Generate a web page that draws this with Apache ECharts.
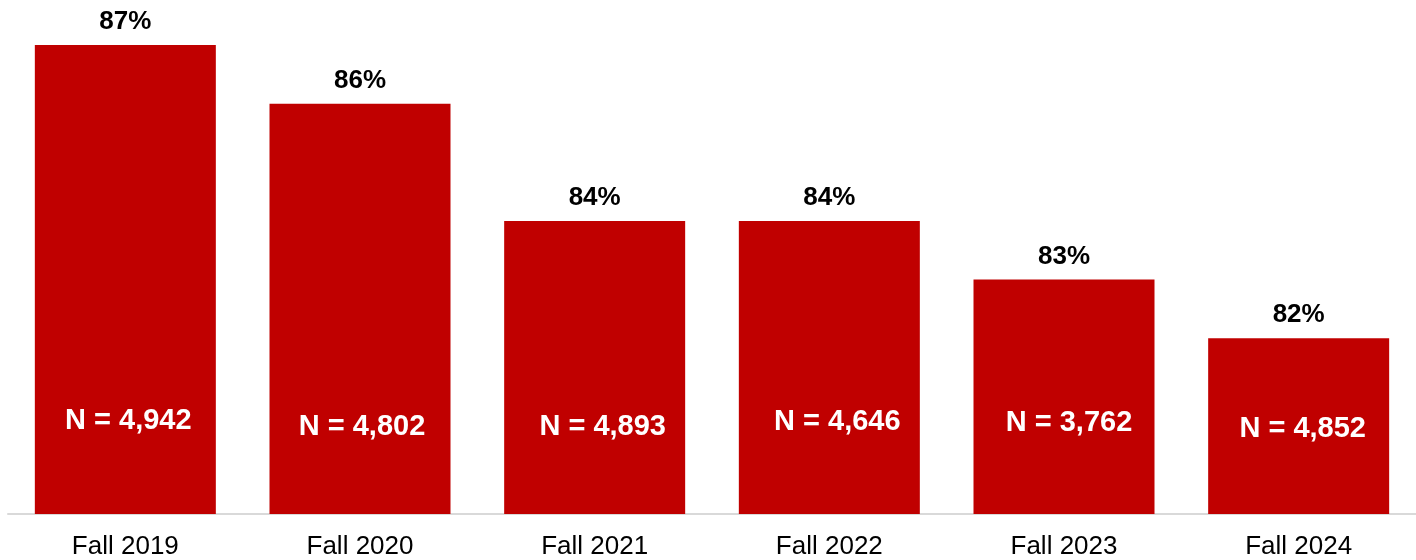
<!DOCTYPE html>
<html>
<head>
<meta charset="utf-8">
<script src="https://cdn.jsdelivr.net/npm/echarts@6/dist/echarts.min.js"></script>
<style>
  html, body { margin: 0; padding: 0; background: #ffffff; }
  #chart { width: 1416px; height: 560px; }
</style>
</head>
<body>
<div id="chart"></div>
<script>
// 数据
var terms = ["Fall 2019", "Fall 2020", "Fall 2021", "Fall 2022", "Fall 2023", "Fall 2024"];
var rates = [87, 86, 84, 84, 83, 82];
var counts = ["4,942", "4,802", "4,893", "4,646", "3,762", "4,852"];

var font = "'Liberation Sans', Arial, sans-serif";
// N 标签的微调位置
var nShift = [[3, -4], [2, 2], [8, 2], [8, -3], [5, -2], [4, 4]];

var chart = echarts.init(document.getElementById("chart"));
chart.setOption({
  animation: false,
  grid: {
    left: 8,
    right: 0,
    top: 45,
    bottom: 46,
    containLabel: false
  },
  xAxis: {
    type: "category",
    data: terms,
    axisTick: { show: false },
    axisLine: { lineStyle: { color: "#d9d9d9", width: 2 } },
    axisLabel: {
      color: "#000000",
      fontSize: 26,
      fontFamily: font,
      margin: 20
    }
  },
  yAxis: {
    type: "value",
    min: 79,
    max: 87,
    show: false,
    splitLine: { show: false }
  },
  series: [
    {
      type: "bar",
      data: rates,
      barWidth: 181,
      itemStyle: { color: "#c00000" },
      label: {
        show: true,
        position: "top",
        distance: 10,
        color: "#000000",
        fontSize: 26,
        fontWeight: "bold",
        fontFamily: font,
        formatter: "{c}%"
      }
    },
    {
      type: "bar",
      barGap: "-100%",
      barWidth: 181,
      silent: true,
      itemStyle: { color: "transparent" },
      data: rates.map(function (v, i) {
        return {
          value: v,
          label: {
            offset: nShift[i],
            formatter: "N = " + counts[i]
          }
        };
      }),
      label: {
        show: true,
        position: "insideBottom",
        distance: 75,
        color: "#ffffff",
        fontSize: 29,
        fontWeight: "bold",
        fontFamily: font
      }
    }
  ]
});
</script>
</body>
</html>
